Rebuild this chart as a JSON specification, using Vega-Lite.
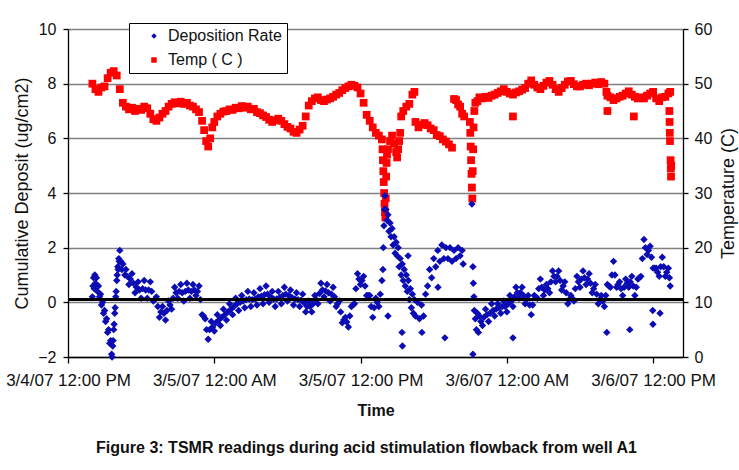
{
  "$schema": "https://vega.github.io/schema/vega-lite/v6.json",
  "width": 615,
  "height": 328,
  "autosize": "none",
  "padding": {"left": 68, "top": 29, "right": 56, "bottom": 113},
  "background": "#ffffff",
  "config": {
    "font": "Liberation Sans",
    "view": {"stroke": null},
    "axis": {"domainColor": "#000000", "domainWidth": 1.3, "tickColor": "#000000", "tickWidth": 1.3, "labelColor": "#111111", "titleColor": "#111111", "gridColor": "#808080", "gridWidth": 1.3}
  },
  "title": {"text": "Figure 3: TSMR readings during acid stimulation flowback from well A1", "orient": "bottom", "frame": "group", "anchor": "middle", "fontSize": 16, "fontWeight": "bold", "color": "#111111", "offset": 22, "dx": -9},
  "datasets": {
    "deposition": [
      {"time":"2007-03-04T14:00Z","deposit":0.2},{"time":"2007-03-04T14:03Z","deposit":0.6},{"time":"2007-03-04T14:06Z","deposit":0.9},{"time":"2007-03-04T14:09Z","deposit":0.5},{"time":"2007-03-04T14:12Z","deposit":1.0},{"time":"2007-03-04T14:15Z","deposit":0.7},{"time":"2007-03-04T14:20Z","deposit":0.9},{"time":"2007-03-04T14:25Z","deposit":0.4},{"time":"2007-03-04T14:30Z","deposit":0.6},{"time":"2007-03-04T14:35Z","deposit":0.2},{"time":"2007-03-04T14:40Z","deposit":0.3},{"time":"2007-03-04T14:45Z","deposit":-0.1},{"time":"2007-03-04T14:50Z","deposit":0.0},{"time":"2007-03-04T14:55Z","deposit":-0.4},{"time":"2007-03-04T15:00Z","deposit":-0.3},{"time":"2007-03-04T15:05Z","deposit":-0.7},{"time":"2007-03-04T15:10Z","deposit":-0.6},{"time":"2007-03-04T15:15Z","deposit":-1.1},{"time":"2007-03-04T15:20Z","deposit":-1.0},{"time":"2007-03-04T15:25Z","deposit":-1.5},{"time":"2007-03-04T15:30Z","deposit":-1.4},{"time":"2007-03-04T15:35Z","deposit":-1.9},{"time":"2007-03-04T15:37Z","deposit":-2.0},{"time":"2007-03-04T15:40Z","deposit":-1.6},{"time":"2007-03-04T15:42Z","deposit":-1.4},{"time":"2007-03-04T15:45Z","deposit":-1.0},{"time":"2007-03-04T15:47Z","deposit":-0.8},{"time":"2007-03-04T15:50Z","deposit":-0.4},{"time":"2007-03-04T15:52Z","deposit":-0.2},{"time":"2007-03-04T15:55Z","deposit":0.2},{"time":"2007-03-04T15:57Z","deposit":0.4},{"time":"2007-03-04T16:00Z","deposit":0.8},{"time":"2007-03-04T16:02Z","deposit":1.0},{"time":"2007-03-04T16:05Z","deposit":1.3},{"time":"2007-03-04T16:07Z","deposit":1.2},{"time":"2007-03-04T16:10Z","deposit":1.6},{"time":"2007-03-04T16:12Z","deposit":1.5},{"time":"2007-03-04T16:15Z","deposit":1.9},{"time":"2007-03-04T16:20Z","deposit":1.5},{"time":"2007-03-04T16:25Z","deposit":1.2},{"time":"2007-03-04T16:30Z","deposit":1.4},{"time":"2007-03-04T16:40Z","deposit":1.0},{"time":"2007-03-04T16:45Z","deposit":1.2},{"time":"2007-03-04T17:00Z","deposit":0.65},{"time":"2007-03-04T17:15Z","deposit":1.05},{"time":"2007-03-04T17:30Z","deposit":0.35},{"time":"2007-03-04T17:45Z","deposit":0.75},{"time":"2007-03-04T18:00Z","deposit":0.15},{"time":"2007-03-04T18:15Z","deposit":0.8},{"time":"2007-03-04T18:30Z","deposit":0.15},{"time":"2007-03-04T18:45Z","deposit":0.75},{"time":"2007-03-04T19:00Z","deposit":0.05},{"time":"2007-03-04T19:15Z","deposit":0.2},{"time":"2007-03-04T19:30Z","deposit":-0.55},{"time":"2007-03-04T19:45Z","deposit":-0.15},{"time":"2007-03-04T20:00Z","deposit":-0.65},{"time":"2007-03-04T20:15Z","deposit":0.05},{"time":"2007-03-04T20:30Z","deposit":-0.25},{"time":"2007-03-04T20:45Z","deposit":0.55},{"time":"2007-03-04T21:00Z","deposit":0.15},{"time":"2007-03-04T21:15Z","deposit":0.65},{"time":"2007-03-04T21:30Z","deposit":0.05},{"time":"2007-03-04T21:45Z","deposit":0.7},{"time":"2007-03-04T22:00Z","deposit":0.15},{"time":"2007-03-04T22:15Z","deposit":0.65},{"time":"2007-03-04T22:30Z","deposit":0.25},{"time":"2007-03-04T22:45Z","deposit":0.6},{"time":"2007-03-04T23:00Z","deposit":-0.45},{"time":"2007-03-04T23:15Z","deposit":-0.6},{"time":"2007-03-04T23:30Z","deposit":-1.35},{"time":"2007-03-04T23:45Z","deposit":-0.7},
      {"time":"2007-03-04T16:52Z","deposit":0.95},{"time":"2007-03-04T17:07Z","deposit":0.85},{"time":"2007-03-04T17:22Z","deposit":0.7},{"time":"2007-03-04T17:37Z","deposit":0.55},{"time":"2007-03-04T17:52Z","deposit":0.45},{"time":"2007-03-04T18:07Z","deposit":0.5},{"time":"2007-03-04T18:22Z","deposit":0.45},{"time":"2007-03-04T18:37Z","deposit":0.45},{"time":"2007-03-04T18:52Z","deposit":0.4},{"time":"2007-03-04T19:07Z","deposit":0.1},{"time":"2007-03-04T19:22Z","deposit":-0.15},{"time":"2007-03-04T19:37Z","deposit":-0.35},{"time":"2007-03-04T19:52Z","deposit":-0.4},{"time":"2007-03-04T20:07Z","deposit":-0.3},{"time":"2007-03-04T20:22Z","deposit":-0.1},{"time":"2007-03-04T20:37Z","deposit":0.15},{"time":"2007-03-04T20:52Z","deposit":0.35},{"time":"2007-03-04T21:07Z","deposit":0.4},{"time":"2007-03-04T21:22Z","deposit":0.35},{"time":"2007-03-04T21:37Z","deposit":0.4},{"time":"2007-03-04T21:52Z","deposit":0.45},{"time":"2007-03-04T22:07Z","deposit":0.4},{"time":"2007-03-04T22:22Z","deposit":0.45},{"time":"2007-03-04T22:37Z","deposit":0.4},{"time":"2007-03-04T22:52Z","deposit":0.1},{"time":"2007-03-04T23:07Z","deposit":-0.5},{"time":"2007-03-04T23:22Z","deposit":-1.0},{"time":"2007-03-04T23:37Z","deposit":-1.0},{"time":"2007-03-04T23:52Z","deposit":-0.9},
      {"time":"2007-03-05T00:00Z","deposit":-1.05},{"time":"2007-03-05T00:15Z","deposit":-0.45},{"time":"2007-03-05T00:30Z","deposit":-0.85},{"time":"2007-03-05T00:45Z","deposit":-0.25},{"time":"2007-03-05T01:00Z","deposit":-0.65},{"time":"2007-03-05T01:15Z","deposit":-0.05},{"time":"2007-03-05T01:30Z","deposit":-0.45},{"time":"2007-03-05T01:45Z","deposit":0.15},{"time":"2007-03-05T02:00Z","deposit":-0.3},{"time":"2007-03-05T02:15Z","deposit":0.25},{"time":"2007-03-05T02:30Z","deposit":-0.2},{"time":"2007-03-05T02:45Z","deposit":0.4},{"time":"2007-03-05T03:00Z","deposit":-0.15},{"time":"2007-03-05T03:15Z","deposit":0.35},{"time":"2007-03-05T03:30Z","deposit":-0.1},{"time":"2007-03-05T03:45Z","deposit":0.5},{"time":"2007-03-05T04:00Z","deposit":-0.05},{"time":"2007-03-05T04:15Z","deposit":0.6},{"time":"2007-03-05T04:30Z","deposit":0.0},{"time":"2007-03-05T04:45Z","deposit":0.4},{"time":"2007-03-05T05:00Z","deposit":-0.15},{"time":"2007-03-05T05:15Z","deposit":0.4},{"time":"2007-03-05T05:30Z","deposit":-0.05},{"time":"2007-03-05T05:45Z","deposit":0.55},{"time":"2007-03-05T06:00Z","deposit":0.05},{"time":"2007-03-05T06:15Z","deposit":0.45},{"time":"2007-03-05T06:30Z","deposit":-0.1},{"time":"2007-03-05T06:45Z","deposit":0.35},{"time":"2007-03-05T07:00Z","deposit":-0.15},{"time":"2007-03-05T07:15Z","deposit":0.3},{"time":"2007-03-05T07:30Z","deposit":-0.35},{"time":"2007-03-05T07:45Z","deposit":0.05},{"time":"2007-03-05T08:00Z","deposit":-0.35},{"time":"2007-03-05T08:15Z","deposit":0.25},{"time":"2007-03-05T08:30Z","deposit":-0.05},{"time":"2007-03-05T08:45Z","deposit":0.7},{"time":"2007-03-05T09:00Z","deposit":0.2},{"time":"2007-03-05T09:15Z","deposit":0.65},{"time":"2007-03-05T09:30Z","deposit":0.05},{"time":"2007-03-05T09:45Z","deposit":0.55},{"time":"2007-03-05T10:00Z","deposit":-0.15},{"time":"2007-03-05T10:15Z","deposit":0.05},{"time":"2007-03-05T10:30Z","deposit":-0.75},{"time":"2007-03-05T10:45Z","deposit":-0.55},{"time":"2007-03-05T11:00Z","deposit":-0.9},{"time":"2007-03-05T11:15Z","deposit":-0.15},{"time":"2007-03-05T11:30Z","deposit":-0.05},{"time":"2007-03-05T11:45Z","deposit":1.05},{"time":"2007-03-05T12:00Z","deposit":0.65},{"time":"2007-03-05T12:15Z","deposit":0.95},{"time":"2007-03-05T12:30Z","deposit":0.25},{"time":"2007-03-05T12:45Z","deposit":0.25},{"time":"2007-03-05T13:00Z","deposit":-0.55},{"time":"2007-03-05T13:15Z","deposit":0.15},{"time":"2007-03-05T13:30Z","deposit":-0.15},{"time":"2007-03-05T13:45Z","deposit":0.8},
      {"time":"2007-03-05T00:07Z","deposit":-0.75},{"time":"2007-03-05T00:22Z","deposit":-0.65},{"time":"2007-03-05T00:37Z","deposit":-0.55},{"time":"2007-03-05T00:52Z","deposit":-0.45},{"time":"2007-03-05T01:07Z","deposit":-0.35},{"time":"2007-03-05T01:22Z","deposit":-0.25},{"time":"2007-03-05T01:37Z","deposit":-0.15},{"time":"2007-03-05T01:52Z","deposit":-0.05},{"time":"2007-03-05T02:07Z","deposit":0.0},{"time":"2007-03-05T02:22Z","deposit":0.05},{"time":"2007-03-05T02:37Z","deposit":0.1},{"time":"2007-03-05T02:52Z","deposit":0.12},{"time":"2007-03-05T03:07Z","deposit":0.1},{"time":"2007-03-05T03:22Z","deposit":0.12},{"time":"2007-03-05T03:37Z","deposit":0.2},{"time":"2007-03-05T03:52Z","deposit":0.22},{"time":"2007-03-05T04:07Z","deposit":0.28},{"time":"2007-03-05T04:22Z","deposit":0.3},{"time":"2007-03-05T04:37Z","deposit":0.2},{"time":"2007-03-05T04:52Z","deposit":0.12},{"time":"2007-03-05T05:07Z","deposit":0.12},{"time":"2007-03-05T05:22Z","deposit":0.18},{"time":"2007-03-05T05:37Z","deposit":0.25},{"time":"2007-03-05T05:52Z","deposit":0.3},{"time":"2007-03-05T06:07Z","deposit":0.25},{"time":"2007-03-05T06:22Z","deposit":0.18},{"time":"2007-03-05T06:37Z","deposit":0.12},{"time":"2007-03-05T06:52Z","deposit":0.1},{"time":"2007-03-05T07:07Z","deposit":0.08},{"time":"2007-03-05T07:22Z","deposit":-0.02},{"time":"2007-03-05T07:37Z","deposit":-0.15},{"time":"2007-03-05T07:52Z","deposit":-0.15},{"time":"2007-03-05T08:07Z","deposit":-0.05},{"time":"2007-03-05T08:22Z","deposit":0.1},{"time":"2007-03-05T08:37Z","deposit":0.32},{"time":"2007-03-05T08:52Z","deposit":0.45},{"time":"2007-03-05T09:07Z","deposit":0.42},{"time":"2007-03-05T09:22Z","deposit":0.35},{"time":"2007-03-05T09:37Z","deposit":0.3},{"time":"2007-03-05T09:52Z","deposit":0.2},{"time":"2007-03-05T10:07Z","deposit":-0.05},{"time":"2007-03-05T10:22Z","deposit":-0.35},{"time":"2007-03-05T10:37Z","deposit":-0.65},{"time":"2007-03-05T10:52Z","deposit":-0.72},{"time":"2007-03-05T11:07Z","deposit":-0.5},{"time":"2007-03-05T11:22Z","deposit":-0.1},{"time":"2007-03-05T11:37Z","deposit":0.5},{"time":"2007-03-05T11:52Z","deposit":0.85},{"time":"2007-03-05T12:07Z","deposit":0.8},{"time":"2007-03-05T12:22Z","deposit":0.6},{"time":"2007-03-05T12:37Z","deposit":0.25},{"time":"2007-03-05T12:52Z","deposit":-0.15},{"time":"2007-03-05T13:07Z","deposit":-0.2},{"time":"2007-03-05T13:22Z","deposit":0.0},{"time":"2007-03-05T13:37Z","deposit":0.3},
      {"time":"2007-03-05T13:50Z","deposit":1.2},{"time":"2007-03-05T13:52Z","deposit":2.0},{"time":"2007-03-05T13:55Z","deposit":2.8},{"time":"2007-03-05T13:57Z","deposit":3.4},{"time":"2007-03-05T14:00Z","deposit":3.9},{"time":"2007-03-05T14:05Z","deposit":3.4},{"time":"2007-03-05T14:10Z","deposit":3.0},{"time":"2007-03-05T14:15Z","deposit":3.2},{"time":"2007-03-05T14:20Z","deposit":2.6},{"time":"2007-03-05T14:25Z","deposit":2.9},{"time":"2007-03-05T14:30Z","deposit":2.4},{"time":"2007-03-05T14:35Z","deposit":2.7},{"time":"2007-03-05T14:40Z","deposit":2.1},{"time":"2007-03-05T14:45Z","deposit":2.4},{"time":"2007-03-05T14:50Z","deposit":1.8},{"time":"2007-03-05T14:55Z","deposit":2.2},{"time":"2007-03-05T15:00Z","deposit":1.7},{"time":"2007-03-05T15:05Z","deposit":2.0},{"time":"2007-03-05T15:10Z","deposit":1.3},{"time":"2007-03-05T15:15Z","deposit":1.6},{"time":"2007-03-05T15:20Z","deposit":1.0},{"time":"2007-03-05T15:25Z","deposit":1.4},{"time":"2007-03-05T15:30Z","deposit":0.8},{"time":"2007-03-05T15:35Z","deposit":1.2},{"time":"2007-03-05T15:40Z","deposit":0.6},{"time":"2007-03-05T15:45Z","deposit":1.0},{"time":"2007-03-05T15:50Z","deposit":0.4},{"time":"2007-03-05T15:55Z","deposit":0.8},{"time":"2007-03-05T16:00Z","deposit":0.1},{"time":"2007-03-05T16:05Z","deposit":0.5},{"time":"2007-03-05T16:10Z","deposit":-0.2},{"time":"2007-03-05T16:15Z","deposit":0.3},{"time":"2007-03-05T16:20Z","deposit":-0.4},{"time":"2007-03-05T16:25Z","deposit":0.1},{"time":"2007-03-05T16:30Z","deposit":-0.5},{"time":"2007-03-05T16:40Z","deposit":0.0},{"time":"2007-03-05T16:50Z","deposit":-0.6},{"time":"2007-03-05T17:00Z","deposit":-0.1},{"time":"2007-03-05T17:10Z","deposit":-0.5},{"time":"2007-03-05T17:20Z","deposit":0.3},{"time":"2007-03-05T17:30Z","deposit":0.6},{"time":"2007-03-05T17:40Z","deposit":1.2},{"time":"2007-03-05T17:50Z","deposit":0.9},{"time":"2007-03-05T18:00Z","deposit":1.6},{"time":"2007-03-05T18:10Z","deposit":1.3},{"time":"2007-03-05T18:20Z","deposit":1.9},{"time":"2007-03-05T18:30Z","deposit":1.5},{"time":"2007-03-05T18:40Z","deposit":2.1},{"time":"2007-03-05T18:50Z","deposit":1.6},{"time":"2007-03-05T19:00Z","deposit":2.0},{"time":"2007-03-05T19:10Z","deposit":1.6},{"time":"2007-03-05T19:20Z","deposit":2.0},{"time":"2007-03-05T19:30Z","deposit":1.5},{"time":"2007-03-05T19:40Z","deposit":1.9},{"time":"2007-03-05T19:50Z","deposit":1.6},{"time":"2007-03-05T20:00Z","deposit":2.0},{"time":"2007-03-05T20:10Z","deposit":1.7},{"time":"2007-03-05T20:20Z","deposit":1.9},{"time":"2007-03-05T20:25Z","deposit":1.4},{"time":"2007-03-05T21:08Z","deposit":3.6},{"time":"2007-03-05T21:13Z","deposit":1.3},{"time":"2007-03-05T21:15Z","deposit":0.7},{"time":"2007-03-05T21:18Z","deposit":0.2},{"time":"2007-03-05T21:20Z","deposit":-0.3},{"time":"2007-03-05T21:25Z","deposit":-0.6},{"time":"2007-03-05T21:30Z","deposit":-1.0},{"time":"2007-03-05T21:35Z","deposit":-0.4},{"time":"2007-03-05T21:40Z","deposit":-1.1},{"time":"2007-03-05T21:45Z","deposit":-0.5},{"time":"2007-03-05T22:00Z","deposit":-0.85},{"time":"2007-03-05T22:15Z","deposit":-0.25},{"time":"2007-03-05T22:30Z","deposit":-0.7},{"time":"2007-03-05T22:45Z","deposit":-0.05},{"time":"2007-03-05T23:00Z","deposit":-0.5},{"time":"2007-03-05T23:15Z","deposit":-0.05},{"time":"2007-03-05T23:30Z","deposit":-0.4},{"time":"2007-03-05T23:45Z","deposit":0.05},
      {"time":"2007-03-05T21:52Z","deposit":-0.7},{"time":"2007-03-05T22:07Z","deposit":-0.55},{"time":"2007-03-05T22:22Z","deposit":-0.45},{"time":"2007-03-05T22:37Z","deposit":-0.4},{"time":"2007-03-05T22:52Z","deposit":-0.3},{"time":"2007-03-05T23:07Z","deposit":-0.25},{"time":"2007-03-05T23:22Z","deposit":-0.2},{"time":"2007-03-05T23:37Z","deposit":-0.15},{"time":"2007-03-05T23:52Z","deposit":-0.15},
      {"time":"2007-03-06T00:00Z","deposit":-0.35},{"time":"2007-03-06T00:15Z","deposit":0.25},{"time":"2007-03-06T00:30Z","deposit":-0.15},{"time":"2007-03-06T00:45Z","deposit":0.55},{"time":"2007-03-06T01:00Z","deposit":0.15},{"time":"2007-03-06T01:15Z","deposit":0.55},{"time":"2007-03-06T01:30Z","deposit":-0.05},{"time":"2007-03-06T01:45Z","deposit":0.25},{"time":"2007-03-06T02:00Z","deposit":-0.45},{"time":"2007-03-06T02:15Z","deposit":0.25},{"time":"2007-03-06T02:30Z","deposit":0.15},{"time":"2007-03-06T02:45Z","deposit":0.85},{"time":"2007-03-06T03:00Z","deposit":0.25},{"time":"2007-03-06T03:15Z","deposit":0.65},{"time":"2007-03-06T03:30Z","deposit":0.35},{"time":"2007-03-06T03:45Z","deposit":1.15},{"time":"2007-03-06T04:00Z","deposit":0.75},{"time":"2007-03-06T04:15Z","deposit":1.15},{"time":"2007-03-06T04:30Z","deposit":0.45},{"time":"2007-03-06T04:45Z","deposit":0.75},{"time":"2007-03-06T05:00Z","deposit":-0.05},{"time":"2007-03-06T05:15Z","deposit":0.25},{"time":"2007-03-06T05:30Z","deposit":0.05},{"time":"2007-03-06T05:45Z","deposit":0.95},{"time":"2007-03-06T06:00Z","deposit":0.55},{"time":"2007-03-06T06:15Z","deposit":1.15},{"time":"2007-03-06T06:30Z","deposit":0.65},{"time":"2007-03-06T06:45Z","deposit":1.05},{"time":"2007-03-06T07:00Z","deposit":0.35},{"time":"2007-03-06T07:15Z","deposit":0.65},{"time":"2007-03-06T07:30Z","deposit":-0.05},{"time":"2007-03-06T07:45Z","deposit":0.25},{"time":"2007-03-06T08:00Z","deposit":-0.15},{"time":"2007-03-06T08:15Z","deposit":0.65},{"time":"2007-03-06T08:30Z","deposit":0.55},{"time":"2007-03-06T08:45Z","deposit":1.5},{"time":"2007-03-06T09:00Z","deposit":0.55},{"time":"2007-03-06T09:15Z","deposit":0.75},{"time":"2007-03-06T09:30Z","deposit":0.25},{"time":"2007-03-06T09:45Z","deposit":0.85},{"time":"2007-03-06T10:00Z","deposit":0.55},{"time":"2007-03-06T10:15Z","deposit":0.95},{"time":"2007-03-06T10:30Z","deposit":0.25},{"time":"2007-03-06T10:45Z","deposit":0.85},{"time":"2007-03-06T11:00Z","deposit":0.95},{"time":"2007-03-06T11:15Z","deposit":2.3},{"time":"2007-03-06T11:30Z","deposit":1.75},{"time":"2007-03-06T11:45Z","deposit":2.05},{"time":"2007-03-06T12:00Z","deposit":1.25},{"time":"2007-03-06T12:15Z","deposit":1.25},{"time":"2007-03-06T12:30Z","deposit":0.95},{"time":"2007-03-06T12:45Z","deposit":1.65},{"time":"2007-03-06T13:00Z","deposit":0.95},{"time":"2007-03-06T13:15Z","deposit":1.25},{"time":"2007-03-06T13:24Z","deposit":0.6},
      {"time":"2007-03-06T00:07Z","deposit":-0.05},{"time":"2007-03-06T00:22Z","deposit":0.05},{"time":"2007-03-06T00:37Z","deposit":0.2},{"time":"2007-03-06T00:52Z","deposit":0.35},{"time":"2007-03-06T01:07Z","deposit":0.35},{"time":"2007-03-06T01:22Z","deposit":0.25},{"time":"2007-03-06T01:37Z","deposit":0.1},{"time":"2007-03-06T01:52Z","deposit":-0.1},{"time":"2007-03-06T02:07Z","deposit":-0.1},{"time":"2007-03-06T02:22Z","deposit":0.2},{"time":"2007-03-06T02:37Z","deposit":0.5},{"time":"2007-03-06T02:52Z","deposit":0.55},{"time":"2007-03-06T03:07Z","deposit":0.45},{"time":"2007-03-06T03:22Z","deposit":0.5},{"time":"2007-03-06T03:37Z","deposit":0.75},{"time":"2007-03-06T03:52Z","deposit":0.95},{"time":"2007-03-06T04:07Z","deposit":0.95},{"time":"2007-03-06T04:22Z","deposit":0.8},{"time":"2007-03-06T04:37Z","deposit":0.6},{"time":"2007-03-06T04:52Z","deposit":0.35},{"time":"2007-03-06T05:07Z","deposit":0.1},{"time":"2007-03-06T05:22Z","deposit":0.15},{"time":"2007-03-06T05:37Z","deposit":0.5},{"time":"2007-03-06T05:52Z","deposit":0.75},{"time":"2007-03-06T06:07Z","deposit":0.85},{"time":"2007-03-06T06:22Z","deposit":0.9},{"time":"2007-03-06T06:37Z","deposit":0.85},{"time":"2007-03-06T06:52Z","deposit":0.7},{"time":"2007-03-06T07:07Z","deposit":0.5},{"time":"2007-03-06T07:22Z","deposit":0.3},{"time":"2007-03-06T07:37Z","deposit":0.1},{"time":"2007-03-06T07:52Z","deposit":0.05},{"time":"2007-03-06T08:07Z","deposit":0.25},{"time":"2007-03-06T08:22Z","deposit":0.6},{"time":"2007-03-06T08:37Z","deposit":1.0},{"time":"2007-03-06T08:52Z","deposit":1.0},{"time":"2007-03-06T09:07Z","deposit":0.65},{"time":"2007-03-06T09:22Z","deposit":0.5},{"time":"2007-03-06T09:37Z","deposit":0.55},{"time":"2007-03-06T09:52Z","deposit":0.7},{"time":"2007-03-06T10:07Z","deposit":0.75},{"time":"2007-03-06T10:22Z","deposit":0.6},{"time":"2007-03-06T10:37Z","deposit":0.55},{"time":"2007-03-06T10:52Z","deposit":0.9},{"time":"2007-03-06T11:07Z","deposit":1.6},{"time":"2007-03-06T11:22Z","deposit":2.0},{"time":"2007-03-06T11:37Z","deposit":1.9},{"time":"2007-03-06T11:52Z","deposit":1.65},{"time":"2007-03-06T12:07Z","deposit":1.25},{"time":"2007-03-06T12:22Z","deposit":1.1},{"time":"2007-03-06T12:37Z","deposit":1.3},{"time":"2007-03-06T12:52Z","deposit":1.3},{"time":"2007-03-06T13:07Z","deposit":1.1},{"time":"2007-03-06T13:20Z","deposit":0.9},
      {"time":"2007-03-05T14:15Z","deposit":-0.5},{"time":"2007-03-05T15:24Z","deposit":-1.1},{"time":"2007-03-05T15:26Z","deposit":-1.6},{"time":"2007-03-05T15:54Z","deposit":1.7},{"time":"2007-03-05T17:02Z","deposit":-1.1},{"time":"2007-03-05T18:21Z","deposit":0.55},{"time":"2007-03-05T18:55Z","deposit":-1.3},{"time":"2007-03-05T21:13Z","deposit":-1.9},{"time":"2007-03-06T00:30Z","deposit":-1.3},{"time":"2007-03-06T08:12Z","deposit":-1.1},{"time":"2007-03-06T10:05Z","deposit":-1.0},{"time":"2007-03-06T11:59Z","deposit":-0.8},{"time":"2007-03-06T11:58Z","deposit":-0.3},{"time":"2007-03-06T12:34Z","deposit":-0.4}
    ],
    "temperature": [
      {"time":"2007-03-04T14:00Z","temp":50.0},{"time":"2007-03-04T14:15Z","temp":49.0},{"time":"2007-03-04T14:30Z","temp":48.5},{"time":"2007-03-04T14:45Z","temp":49.3},{"time":"2007-03-04T15:00Z","temp":49.5},{"time":"2007-03-04T15:15Z","temp":51.0},{"time":"2007-03-04T15:30Z","temp":52.0},{"time":"2007-03-04T15:45Z","temp":52.3},{"time":"2007-03-04T16:00Z","temp":51.5},{"time":"2007-03-04T16:15Z","temp":49.0},{"time":"2007-03-04T16:30Z","temp":46.5},{"time":"2007-03-04T16:45Z","temp":45.8},{"time":"2007-03-04T17:00Z","temp":45.3},{"time":"2007-03-04T17:15Z","temp":45.6},{"time":"2007-03-04T17:30Z","temp":45.0},{"time":"2007-03-04T17:45Z","temp":45.4},{"time":"2007-03-04T18:00Z","temp":45.2},{"time":"2007-03-04T18:15Z","temp":45.8},{"time":"2007-03-04T18:30Z","temp":45.5},{"time":"2007-03-04T18:45Z","temp":44.5},{"time":"2007-03-04T19:00Z","temp":43.5},{"time":"2007-03-04T19:15Z","temp":43.2},{"time":"2007-03-04T19:30Z","temp":43.8},{"time":"2007-03-04T19:45Z","temp":44.5},{"time":"2007-03-04T20:00Z","temp":45.0},{"time":"2007-03-04T20:15Z","temp":45.8},{"time":"2007-03-04T20:30Z","temp":46.3},{"time":"2007-03-04T20:45Z","temp":46.6},{"time":"2007-03-04T21:00Z","temp":46.4},{"time":"2007-03-04T21:15Z","temp":46.7},{"time":"2007-03-04T21:30Z","temp":46.3},{"time":"2007-03-04T21:45Z","temp":46.5},{"time":"2007-03-04T22:00Z","temp":46.0},{"time":"2007-03-04T22:15Z","temp":45.8},{"time":"2007-03-04T22:30Z","temp":45.3},{"time":"2007-03-04T22:45Z","temp":44.8},{"time":"2007-03-04T23:00Z","temp":43.2},{"time":"2007-03-04T23:10Z","temp":41.5},{"time":"2007-03-04T23:20Z","temp":39.5},{"time":"2007-03-04T23:30Z","temp":38.5},{"time":"2007-03-04T23:40Z","temp":40.0},{"time":"2007-03-04T23:50Z","temp":42.0},
      {"time":"2007-03-05T00:00Z","temp":43.0},{"time":"2007-03-05T00:15Z","temp":44.0},{"time":"2007-03-05T00:30Z","temp":44.5},{"time":"2007-03-05T00:45Z","temp":44.9},{"time":"2007-03-05T01:00Z","temp":45.0},{"time":"2007-03-05T01:15Z","temp":45.3},{"time":"2007-03-05T01:30Z","temp":45.2},{"time":"2007-03-05T01:45Z","temp":45.6},{"time":"2007-03-05T02:00Z","temp":45.5},{"time":"2007-03-05T02:15Z","temp":45.9},{"time":"2007-03-05T02:30Z","temp":45.6},{"time":"2007-03-05T02:45Z","temp":45.8},{"time":"2007-03-05T03:00Z","temp":45.3},{"time":"2007-03-05T03:15Z","temp":45.4},{"time":"2007-03-05T03:30Z","temp":44.8},{"time":"2007-03-05T03:45Z","temp":44.6},{"time":"2007-03-05T04:00Z","temp":44.2},{"time":"2007-03-05T04:15Z","temp":43.9},{"time":"2007-03-05T04:30Z","temp":43.4},{"time":"2007-03-05T04:45Z","temp":43.0},{"time":"2007-03-05T05:00Z","temp":43.3},{"time":"2007-03-05T05:15Z","temp":43.6},{"time":"2007-03-05T05:30Z","temp":43.2},{"time":"2007-03-05T05:45Z","temp":42.6},{"time":"2007-03-05T06:00Z","temp":42.1},{"time":"2007-03-05T06:15Z","temp":41.8},{"time":"2007-03-05T06:30Z","temp":41.2},{"time":"2007-03-05T06:45Z","temp":41.0},{"time":"2007-03-05T07:00Z","temp":41.6},{"time":"2007-03-05T07:15Z","temp":42.3},{"time":"2007-03-05T07:30Z","temp":44.0},{"time":"2007-03-05T07:45Z","temp":46.0},{"time":"2007-03-05T08:00Z","temp":46.8},{"time":"2007-03-05T08:15Z","temp":47.3},{"time":"2007-03-05T08:30Z","temp":47.5},{"time":"2007-03-05T08:45Z","temp":47.0},{"time":"2007-03-05T09:00Z","temp":46.8},{"time":"2007-03-05T09:15Z","temp":47.1},{"time":"2007-03-05T09:30Z","temp":47.3},{"time":"2007-03-05T09:45Z","temp":47.6},{"time":"2007-03-05T10:00Z","temp":48.0},{"time":"2007-03-05T10:15Z","temp":48.3},{"time":"2007-03-05T10:30Z","temp":48.8},{"time":"2007-03-05T10:45Z","temp":49.2},{"time":"2007-03-05T11:00Z","temp":49.5},{"time":"2007-03-05T11:15Z","temp":49.8},{"time":"2007-03-05T11:30Z","temp":49.6},{"time":"2007-03-05T11:45Z","temp":49.3},{"time":"2007-03-05T12:00Z","temp":48.2},{"time":"2007-03-05T12:15Z","temp":46.5},{"time":"2007-03-05T12:30Z","temp":44.3},{"time":"2007-03-05T12:45Z","temp":43.2},{"time":"2007-03-05T13:00Z","temp":42.0},{"time":"2007-03-05T13:15Z","temp":41.0},{"time":"2007-03-05T13:30Z","temp":40.5},{"time":"2007-03-05T13:45Z","temp":39.8},{"time":"2007-03-05T13:48Z","temp":38.0},{"time":"2007-03-05T13:50Z","temp":36.0},{"time":"2007-03-05T13:52Z","temp":34.0},{"time":"2007-03-05T13:54Z","temp":32.0},{"time":"2007-03-05T13:56Z","temp":30.0},{"time":"2007-03-05T13:58Z","temp":28.0},{"time":"2007-03-05T14:00Z","temp":26.5},{"time":"2007-03-05T14:02Z","temp":25.5},{"time":"2007-03-05T14:04Z","temp":29.0},{"time":"2007-03-05T14:06Z","temp":33.0},{"time":"2007-03-05T14:08Z","temp":35.5},{"time":"2007-03-05T14:10Z","temp":37.0},{"time":"2007-03-05T14:15Z","temp":38.0},{"time":"2007-03-05T14:25Z","temp":39.5},{"time":"2007-03-05T14:35Z","temp":40.5},{"time":"2007-03-05T14:45Z","temp":39.0},{"time":"2007-03-05T14:55Z","temp":37.5},{"time":"2007-03-05T15:00Z","temp":36.5},{"time":"2007-03-05T15:05Z","temp":38.0},{"time":"2007-03-05T15:10Z","temp":39.5},{"time":"2007-03-05T15:15Z","temp":41.0},{"time":"2007-03-05T15:20Z","temp":44.0},{"time":"2007-03-05T15:30Z","temp":45.0},{"time":"2007-03-05T15:45Z","temp":45.8},{"time":"2007-03-05T16:00Z","temp":46.3},{"time":"2007-03-05T16:15Z","temp":48.0},{"time":"2007-03-05T16:25Z","temp":48.5},{"time":"2007-03-05T16:30Z","temp":43.0},{"time":"2007-03-05T16:45Z","temp":42.0},{"time":"2007-03-05T17:00Z","temp":42.5},{"time":"2007-03-05T17:15Z","temp":42.8},{"time":"2007-03-05T17:30Z","temp":42.4},{"time":"2007-03-05T17:45Z","temp":41.8},{"time":"2007-03-05T18:00Z","temp":41.5},{"time":"2007-03-05T18:15Z","temp":40.6},{"time":"2007-03-05T18:30Z","temp":40.4},{"time":"2007-03-05T18:45Z","temp":39.8},{"time":"2007-03-05T19:00Z","temp":39.4},{"time":"2007-03-05T19:15Z","temp":38.9},{"time":"2007-03-05T19:30Z","temp":38.3},{"time":"2007-03-05T19:40Z","temp":47.2},{"time":"2007-03-05T19:50Z","temp":47.0},{"time":"2007-03-05T20:00Z","temp":46.2},{"time":"2007-03-05T20:10Z","temp":45.8},{"time":"2007-03-05T20:20Z","temp":44.5},{"time":"2007-03-05T20:30Z","temp":44.0},{"time":"2007-03-05T20:58Z","temp":43.0},{"time":"2007-03-05T21:00Z","temp":41.0},{"time":"2007-03-05T21:02Z","temp":38.5},{"time":"2007-03-05T21:04Z","temp":36.0},{"time":"2007-03-05T21:06Z","temp":33.5},{"time":"2007-03-05T21:08Z","temp":31.0},{"time":"2007-03-05T21:10Z","temp":29.0},{"time":"2007-03-05T21:12Z","temp":34.0},{"time":"2007-03-05T21:14Z","temp":38.0},{"time":"2007-03-05T21:16Z","temp":42.0},{"time":"2007-03-05T21:20Z","temp":45.0},{"time":"2007-03-05T21:25Z","temp":46.5},{"time":"2007-03-05T21:35Z","temp":46.8},{"time":"2007-03-05T21:45Z","temp":47.5},{"time":"2007-03-05T22:00Z","temp":47.3},{"time":"2007-03-05T22:15Z","temp":47.6},{"time":"2007-03-05T22:30Z","temp":47.4},{"time":"2007-03-05T22:45Z","temp":47.8},{"time":"2007-03-05T23:00Z","temp":48.0},{"time":"2007-03-05T23:15Z","temp":48.3},{"time":"2007-03-05T23:30Z","temp":48.6},{"time":"2007-03-05T23:45Z","temp":49.0},
      {"time":"2007-03-06T00:00Z","temp":48.5},{"time":"2007-03-06T00:15Z","temp":48.2},{"time":"2007-03-06T00:30Z","temp":48.0},{"time":"2007-03-06T00:45Z","temp":48.4},{"time":"2007-03-06T01:00Z","temp":48.6},{"time":"2007-03-06T01:15Z","temp":48.9},{"time":"2007-03-06T01:30Z","temp":49.2},{"time":"2007-03-06T01:45Z","temp":50.0},{"time":"2007-03-06T02:00Z","temp":50.6},{"time":"2007-03-06T02:15Z","temp":49.8},{"time":"2007-03-06T02:30Z","temp":49.3},{"time":"2007-03-06T02:45Z","temp":49.0},{"time":"2007-03-06T03:00Z","temp":49.6},{"time":"2007-03-06T03:15Z","temp":50.2},{"time":"2007-03-06T03:30Z","temp":50.5},{"time":"2007-03-06T03:45Z","temp":49.8},{"time":"2007-03-06T04:00Z","temp":49.0},{"time":"2007-03-06T04:15Z","temp":48.5},{"time":"2007-03-06T04:30Z","temp":49.2},{"time":"2007-03-06T04:45Z","temp":49.8},{"time":"2007-03-06T05:00Z","temp":50.4},{"time":"2007-03-06T05:15Z","temp":50.5},{"time":"2007-03-06T05:30Z","temp":49.9},{"time":"2007-03-06T05:45Z","temp":49.5},{"time":"2007-03-06T06:00Z","temp":49.5},{"time":"2007-03-06T06:15Z","temp":49.8},{"time":"2007-03-06T06:30Z","temp":50.0},{"time":"2007-03-06T06:45Z","temp":49.7},{"time":"2007-03-06T07:00Z","temp":50.0},{"time":"2007-03-06T07:15Z","temp":50.2},{"time":"2007-03-06T07:30Z","temp":49.9},{"time":"2007-03-06T07:45Z","temp":50.3},{"time":"2007-03-06T08:00Z","temp":50.0},{"time":"2007-03-06T08:10Z","temp":48.5},{"time":"2007-03-06T08:15Z","temp":47.8},{"time":"2007-03-06T08:30Z","temp":47.5},{"time":"2007-03-06T08:45Z","temp":47.0},{"time":"2007-03-06T09:00Z","temp":47.3},{"time":"2007-03-06T09:15Z","temp":47.6},{"time":"2007-03-06T09:30Z","temp":47.8},{"time":"2007-03-06T09:45Z","temp":48.2},{"time":"2007-03-06T10:00Z","temp":48.6},{"time":"2007-03-06T10:15Z","temp":48.0},{"time":"2007-03-06T10:30Z","temp":47.6},{"time":"2007-03-06T10:45Z","temp":47.3},{"time":"2007-03-06T11:00Z","temp":47.5},{"time":"2007-03-06T11:15Z","temp":47.3},{"time":"2007-03-06T11:30Z","temp":47.8},{"time":"2007-03-06T11:45Z","temp":48.2},{"time":"2007-03-06T12:00Z","temp":48.5},{"time":"2007-03-06T12:15Z","temp":47.3},{"time":"2007-03-06T12:30Z","temp":46.8},{"time":"2007-03-06T12:45Z","temp":47.5},{"time":"2007-03-06T13:00Z","temp":47.6},{"time":"2007-03-06T13:15Z","temp":48.2},{"time":"2007-03-06T13:24Z","temp":48.5},{"time":"2007-03-06T13:20Z","temp":45.0},{"time":"2007-03-06T13:21Z","temp":43.0},{"time":"2007-03-06T13:22Z","temp":41.0},{"time":"2007-03-06T13:23Z","temp":39.5},{"time":"2007-03-06T13:26Z","temp":36.0},{"time":"2007-03-06T13:27Z","temp":34.5},{"time":"2007-03-06T13:28Z","temp":33.0},{"time":"2007-03-06T13:29Z","temp":35.0},
      {"time":"2007-03-06T00:30Z","temp":44.0},{"time":"2007-03-06T08:15Z","temp":45.0},{"time":"2007-03-06T10:25Z","temp":44.0}
    ]
  },
  "layer": [
    {
      "data": {"name": "temperature"},
      "mark": {"type": "point", "filled": true, "size": 60, "opacity": 1},
      "encoding": {
        "x": {"field": "time", "type": "temporal", "scale": {"type": "utc", "domain": [{"year": 2007, "month": 3, "date": 4, "hours": 12, "utc": true}, {"year": 2007, "month": 3, "date": 6, "hours": 14, "minutes": 27, "utc": true}]},
              "axis": {"values": [{"year": 2007, "month": 3, "date": 4, "hours": 12, "utc": true}, {"year": 2007, "month": 3, "date": 5, "hours": 0, "utc": true}, {"year": 2007, "month": 3, "date": 5, "hours": 12, "utc": true}, {"year": 2007, "month": 3, "date": 6, "hours": 0, "utc": true}, {"year": 2007, "month": 3, "date": 6, "hours": 12, "utc": true}],
                       "labelExpr": "utcFormat(datum.value, '%-m/%-d/%y %I:%M %p')", "grid": false, "tickSize": 6, "labelFontSize": 17, "labelPadding": 9, "labelOverlap": false, "labelFlush": false, "labelBound": false,
                       "title": "Time", "titleFontSize": 16, "titleFontWeight": "bold", "titlePadding": 14}},
        "y": {"field": "temp", "type": "quantitative", "scale": {"domain": [0, 60], "nice": false, "zero": false},
              "axis": {"orient": "right", "values": [0, 10, 20, 30, 40, 50, 60], "grid": false, "tickSize": 5, "labelFontSize": 16, "labelPadding": 6, "title": "Temperature (C)", "titleFontSize": 18, "titleFontWeight": "normal", "titleAngle": 270, "titleBaseline": "top", "titlePadding": 8}},
        "color": {"datum": "Temp ( C )", "type": "nominal", "scale": {"domain": ["Deposition Rate", "Temp ( C )"], "range": ["#0c0cb4", "#ff0000"]},
                  "legend": {"title": null, "orient": "none", "legendX": 61, "legendY": -6, "strokeColor": "#000000", "fillColor": "#ffffff", "padding": 5, "symbolOffset": 12, "labelOffset": 6, "labelFontSize": 16, "labelColor": "#111111", "symbolSize": 30, "rowPadding": 8}},
        "shape": {"datum": "Temp ( C )", "type": "nominal", "scale": {"domain": ["Deposition Rate", "Temp ( C )"], "range": ["diamond", "square"]}}
      }
    },
    {
      "layer": [
        {
          "data": {"name": "deposition"},
          "mark": {"type": "point", "filled": true, "size": 55, "opacity": 1},
          "encoding": {
            "x": {"field": "time", "type": "temporal", "scale": {"type": "utc", "domain": [{"year": 2007, "month": 3, "date": 4, "hours": 12, "utc": true}, {"year": 2007, "month": 3, "date": 6, "hours": 14, "minutes": 27, "utc": true}]},
                  "axis": {"values": [{"year": 2007, "month": 3, "date": 4, "hours": 12, "utc": true}, {"year": 2007, "month": 3, "date": 5, "hours": 0, "utc": true}, {"year": 2007, "month": 3, "date": 5, "hours": 12, "utc": true}, {"year": 2007, "month": 3, "date": 6, "hours": 0, "utc": true}, {"year": 2007, "month": 3, "date": 6, "hours": 12, "utc": true}],
                           "labelExpr": "utcFormat(datum.value, '%-m/%-d/%y %I:%M %p')", "grid": false, "tickSize": 6, "labelFontSize": 17, "labelPadding": 9, "labelOverlap": false, "labelFlush": false, "labelBound": false,
                           "title": "Time", "titleFontSize": 16, "titleFontWeight": "bold", "titlePadding": 14}},
            "y": {"field": "deposit", "type": "quantitative", "scale": {"domain": [-2, 10], "nice": false, "zero": false},
                  "axis": {"orient": "left", "values": [-2, 0, 2, 4, 6, 8, 10], "grid": true, "tickSize": 5, "labelFontSize": 16, "labelPadding": 7, "title": "Cumulative Deposit (ug/cm2)", "titleFontSize": 18, "titleFontWeight": "normal", "titlePadding": 6}},
            "color": {"datum": "Deposition Rate", "type": "nominal"},
            "shape": {"datum": "Deposition Rate", "type": "nominal"}
          }
        },
        {
          "data": {"values": [{"level": 0.1}]},
          "mark": {"type": "rule", "color": "#000000", "strokeWidth": 3},
          "encoding": {
            "y": {"field": "level", "type": "quantitative", "title": "Cumulative Deposit (ug/cm2)"}
          }
        }
      ]
    }
  ],
  "resolve": {"scale": {"y": "independent"}, "axis": {"y": "independent"}}
}
